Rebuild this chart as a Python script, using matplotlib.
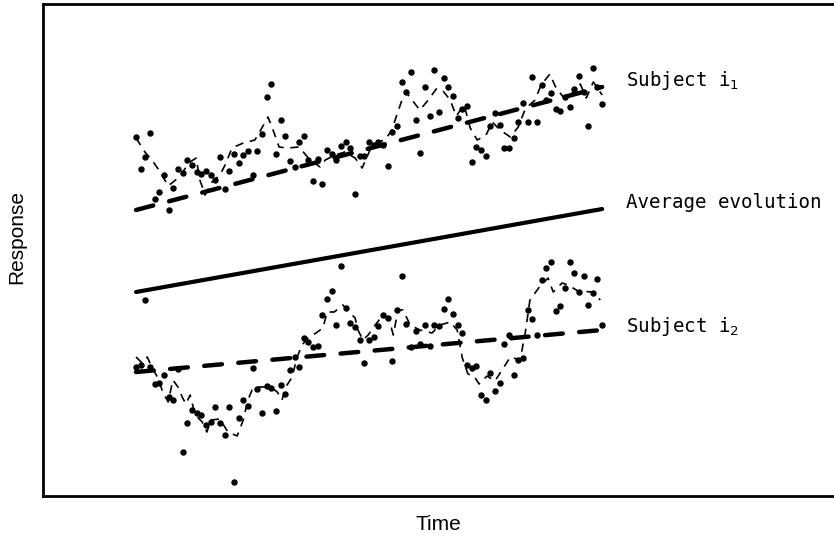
import numpy as np
import matplotlib
matplotlib.use("Agg")
import matplotlib.pyplot as plt

# ---- data (response in arbitrary units, time index 0..100) ----
subj1_obs = [363, 331, 343, 367, 301, 308, 325, 290, 312, 331,
             327, 340, 335, 328, 326, 329, 325, 320, 343, 311,
             329, 346, 337, 345, 349, 325, 349, 366, 403, 416,
             346, 380, 364, 339, 333, 358, 364, 340, 319, 341,
             316, 350, 346, 340, 354, 358, 352, 306, 344, 344,
             358, 355, 358, 355, 334, 368, 374, 418, 408, 428,
             380, 347, 413, 384, 430, 388, 422, 413, 404, 382,
             391, 394, 338, 353, 350, 344, 374, 387, 375, 352,
             352, 362, 378, 397, 378, 423, 378, 415, 400, 407,
             391, 389, 403, 393, 411, 424, 408, 374, 432, 413,
             396]

subj2_obs = [133, 135, 200, 133, 116, 117, 125, 103, 100, 131,
             48, 77, 90, 87, 85, 75, 78, 93, 77, 65,
             93, 18, 82, 100, 94, 132, 111, 87, 114, 112,
             89, 115, 106, 130, 143, 133, 162, 158, 153, 154,
             185, 201, 209, 175, 234, 192, 177, 173, 160, 137,
             160, 163, 174, 185, 182, 139, 190, 224, 176, 153,
             169, 156, 175, 154, 175, 174, 191, 201, 186, 175,
             167, 135, 132, 134, 105, 100, 127, 109, 117, 156,
             165, 125, 140, 142, 190, 181, 165, 220, 232, 238,
             189, 194, 212, 238, 227, 208, 224, 195, 207, 221,
             175]

subj1_curve_t = [0, 1.9, 3.4, 5.2, 6.9, 9.0, 11.6, 12.9, 13.7, 14.8,
                 16.3, 18.0, 19.1, 20.6, 23.0, 25.5, 27.0, 28.3, 29.4, 30.7,
                 32.4, 35.0, 37.3, 39.5, 40.6, 42.7, 44.8, 47.0, 48.5, 50.2,
                 51.9, 53.4, 54.9, 55.8, 56.9, 57.9, 59.2, 60.9, 62.7, 64.4,
                 65.7, 67.4, 68.7, 70.4, 71.7, 73.2, 75.1, 76.4, 78.1, 80.3,
                 82.0, 83.5, 85.6, 86.9, 88.8, 89.9, 92.1, 94.2, 95.3, 96.6,
                 98.1, 100.0]
subj1_curve_y = [362, 348, 340, 328, 314, 322, 338, 342, 320, 305,
                 318, 325, 335, 352, 357, 360, 372, 383, 370, 353,
                 352, 353, 340, 333, 340, 345, 348, 342, 332, 350,
                 358, 360, 370, 383, 398, 408, 400, 390, 400, 411,
                 410, 400, 384, 395, 372, 360, 365, 378, 370, 363,
                 373, 391, 400, 415, 426, 414, 400, 410, 416, 402,
                 418, 405]

subj2_curve_t = [0, 1.3, 2.4, 3.4, 4.7, 5.8, 6.9, 7.9, 9.0, 9.9,
                 10.7, 11.6, 12.7, 14.2, 15.2, 16.1, 18.0, 19.7, 21.7, 23.0,
                 24.0, 24.9, 26.2, 28.8, 30.3, 31.3, 32.4, 33.5, 34.5, 35.6,
                 36.9, 38.6, 40.1, 41.0, 42.5, 44.4, 45.7, 47.0, 47.6, 48.7,
                 49.8, 51.3, 53.0, 54.3, 55.2, 56.2, 57.3, 58.8, 60.9, 63.5,
                 65.2, 67.4, 68.9, 70.0, 71.2, 72.5, 73.6, 75.3, 77.0, 78.8,
                 80.3, 82.4, 83.5, 84.5, 86.7, 88.4, 89.5, 91.4, 92.7, 94.8,
                 97.9, 99.6]
subj2_curve_y = [143, 137, 143, 133, 122, 107, 98, 120, 113, 103,
                 96, 105, 85, 78, 68, 80, 81, 68, 64, 80,
                 100, 110, 113, 113, 108, 100, 115, 123, 142, 155,
                 162, 167, 172, 188, 188, 195, 188, 182, 170, 160,
                 165, 175, 185, 180, 165, 190, 190, 175, 170, 167,
                 175, 178, 170, 142, 126, 124, 116, 124, 119, 132,
                 143, 140, 167, 200, 214, 222, 208, 217, 215, 209,
                 208, 200]

trend_t = [0, 100]
subj1_trend = [290, 413]
subj2_trend = [128, 170]
average_trend = [208, 291]

labels = ["Subject i$_{1}$", "Average evolution", "Subject i$_{2}$"]
label_y = [420, 297, 174]
label_t = 105.2

# ---- figure ----
W, H = 834, 538
fig = plt.figure(figsize=(W / 100, H / 100), dpi=100)
ax = fig.add_axes([43 / W, (H - 496) / H, (838 - 43) / W, (496 - 4) / H])
ax.set_xlim(-19.96, 150.6)
ax.set_ylim(4, 496)
ax.set_xticks([])
ax.set_yticks([])
for s in ax.spines.values():
    s.set_linewidth(2.0)
    s.set_color("black")

t1 = np.arange(len(subj1_obs))
t2 = np.arange(len(subj2_obs))

thin = dict(color="black", lw=1.2, linestyle=(0, (5, 4)))
ax.plot(subj1_curve_t, subj1_curve_y, **thin)
ax.plot(subj2_curve_t, subj2_curve_y, **thin)

ax.plot(t1, subj1_obs, "o", color="black", ms=3.6, mec="black")
ax.plot(t2, subj2_obs, "o", color="black", ms=3.6, mec="black")

thick = dict(color="black", lw=3.2, linestyle=(0, (4.0, 3.7)),
             dash_capstyle="round")
ax.plot(trend_t, subj1_trend, **thick)
ax.plot(trend_t, subj2_trend, **thick)
ax.plot(trend_t, average_trend, color="black", lw=3.0, solid_capstyle="round")

for lab, yy in zip(labels, label_y):
    ax.text(label_t, yy, lab, family="DejaVu Sans Mono", fontsize=13.8,
            ha="left", va="center", clip_on=False)

fig.text(17 / W, 1 - 237 / H, "Response", rotation=90, ha="center", va="center",
         family="Liberation Sans", fontsize=15)
fig.text(438 / W, 1 - 524 / H, "Time", ha="center", va="center",
         family="Liberation Sans", fontsize=15)

fig.savefig("out.png", dpi=100)
